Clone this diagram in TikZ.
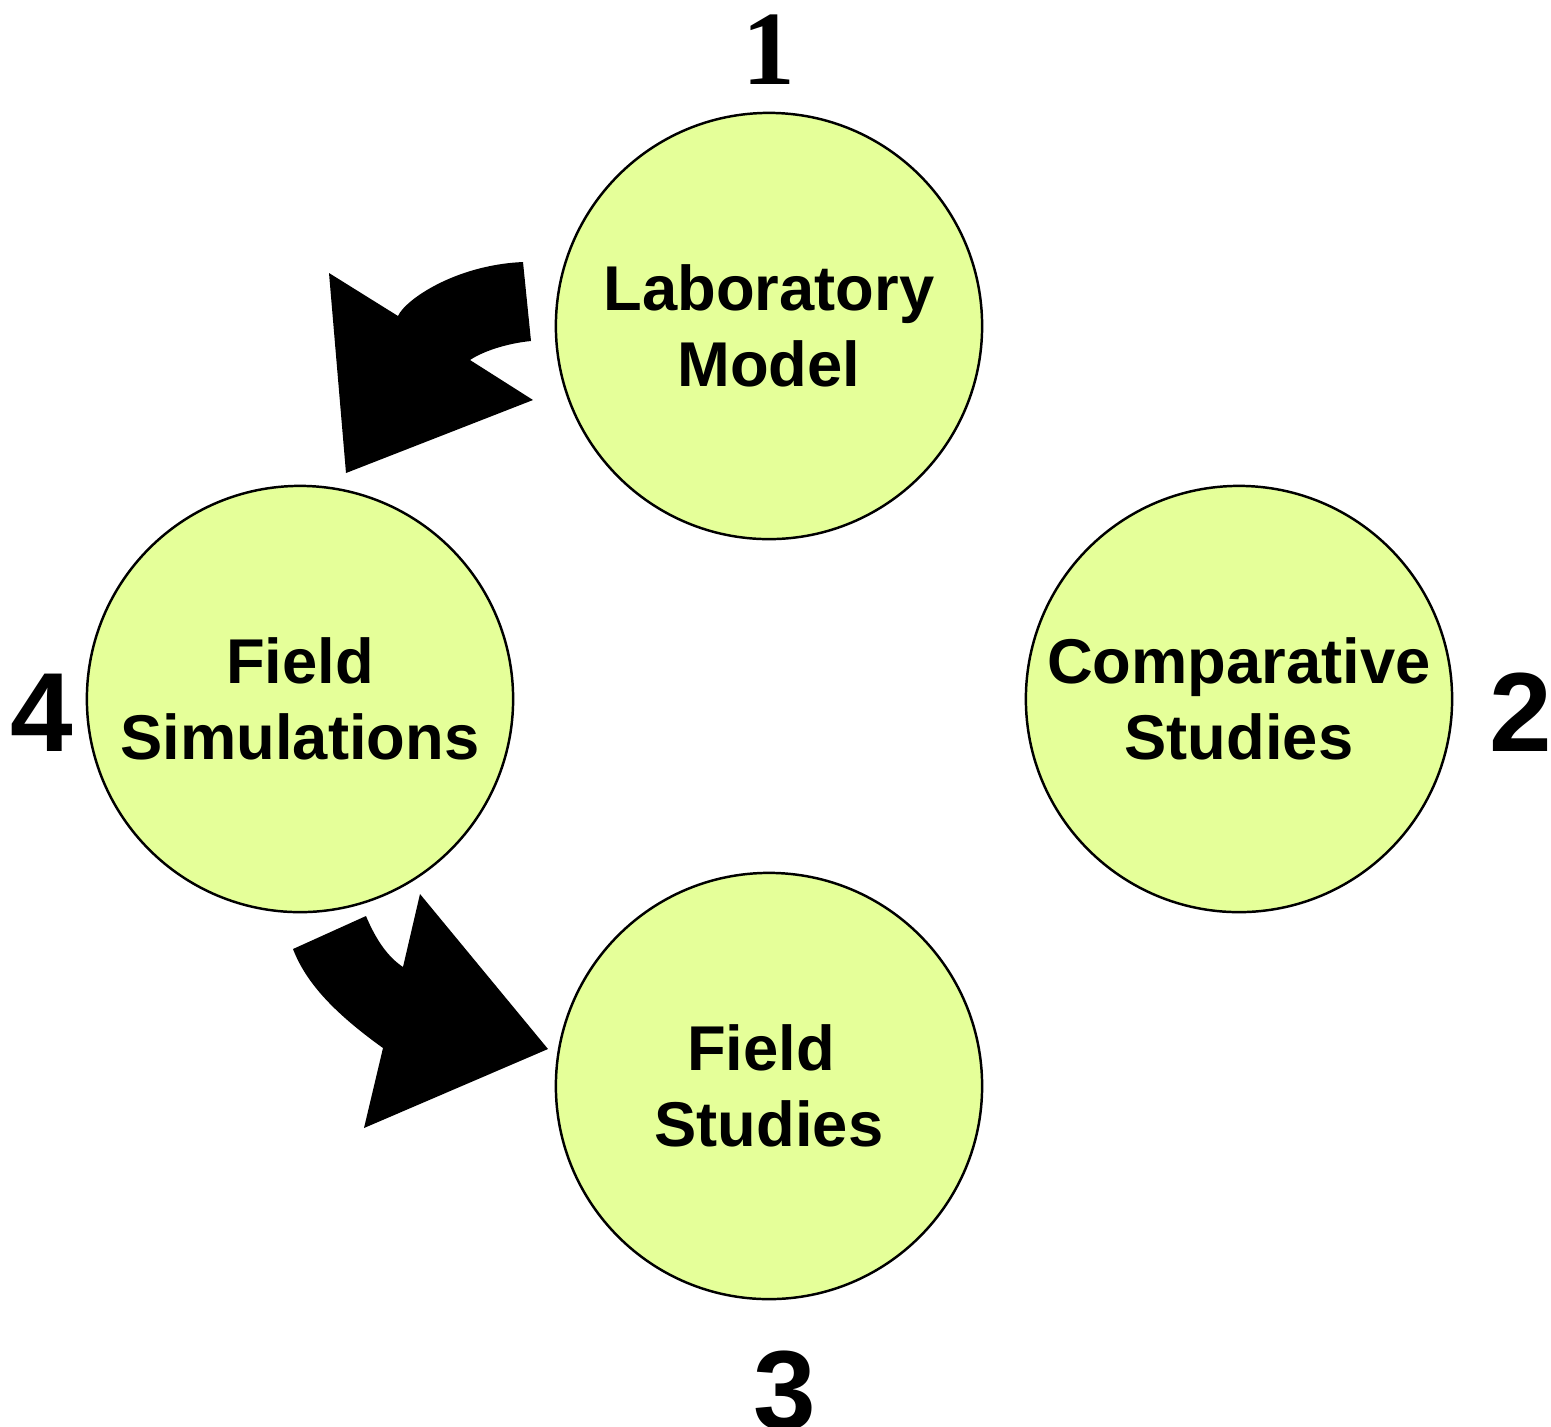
\documentclass[tikz,border=0pt]{standalone}
\usepackage{fontspec}
\usepackage{xcolor}
\usepackage{tikz}
\setmainfont{Liberation Sans}
\newfontfamily\numserif{Liberation Serif}
\definecolor{stagefill}{RGB}{229,255,153}
\tikzset{
  stage/.style={circle, draw, line width=0.7pt, fill=stagefill, minimum size=4.26cm,
    inner sep=0pt, align=center, font=\fontsize{18}{21.5}\selectfont\bfseries},
  stagenum/.style={anchor=base, inner sep=0pt, font=\fontsize{32}{36}\selectfont\bfseries}
}

\begin{document}
\begin{tikzpicture}[x=0.01cm, y=-0.01cm]
    \useasboundingbox (0,0) rectangle (1551,1426);
    \node[stage] (lab) at (769,326) {Laboratory\\Model};
    \node[stage] (comp) at (1239,699) {Comparative\\Studies};
    \node[stage] (sim) at (300,699) {Field\\Simulations};
    \node[stage] (fstud) at (769,1086) {Field\hspace*{0.16cm}\\Studies};
    \node[stagenum, font=\fontsize{30}{34}\selectfont\numserif\bfseries] (n1) at (769,84) {1};
    \node[stagenum] (n2) at (1521,751) {2};
    \node[stagenum] (n3) at (785,1429) {3};
    \node[stagenum] (n4) at (42,751) {4};
    % block arrows
    \fill (329,273) -- (398,316) .. controls (405,300) and (455,265) .. (523,262)
      -- (531,341) .. controls (510,343) and (485,350) .. (470,360)
      -- (533,400) -- (346,473) -- cycle;
    \fill (293,949) -- (366,916) .. controls (376,940) and (388,957) .. (403,967)
      -- (420,894) -- (548,1049) -- (364,1128) -- (383,1048)
      .. controls (330,1010) and (305,980) .. (293,949) -- cycle;
\end{tikzpicture}
\end{document}
